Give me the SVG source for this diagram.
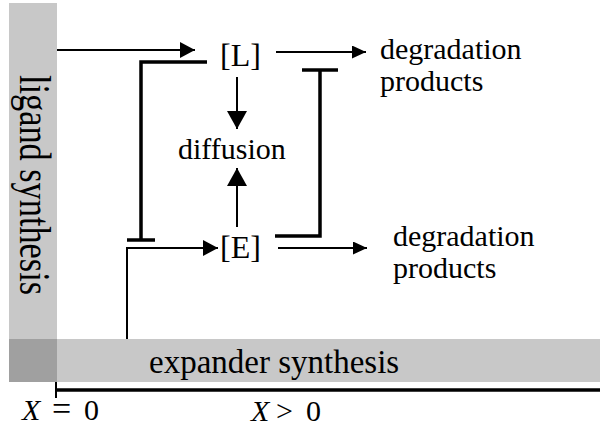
<svg xmlns="http://www.w3.org/2000/svg" width="600" height="429" viewBox="0 0 600 429">
<style>
text{font-family:"Liberation Serif","Times New Roman",serif;fill:#000}
.lbl{font-size:30px}
.node{font-size:32px}
.thin{stroke:#000;stroke-width:2;fill:none}
.thick{stroke:#000;stroke-width:3.5;fill:none}
.bar{fill:#c8c8c8}
</style>
<defs>
<marker id="headL" markerUnits="userSpaceOnUse" markerWidth="15" markerHeight="16" refX="15" refY="8" orient="auto"><path d="M0,0 L15,8 L0,16 z" fill="#000"/></marker>
<marker id="headD" markerUnits="userSpaceOnUse" markerWidth="18" markerHeight="20" refX="18" refY="10" orient="auto"><path d="M0,0 L18,10 L0,20 z" fill="#000"/></marker>
<marker id="headS" markerUnits="userSpaceOnUse" markerWidth="14" markerHeight="13" refX="14" refY="6.5" orient="auto"><path d="M0,0 L14,6.5 L0,13 z" fill="#000"/></marker>
</defs>
<g id="ligand-synthesis">
<rect class="bar" x="9" y="3" width="48" height="379"/>
<text transform="translate(20,75) rotate(90)" font-size="44" textLength="220" lengthAdjust="spacingAndGlyphs">ligand synthesis</text>
</g>
<g id="expander-synthesis">
<rect class="bar" x="9" y="339" width="591" height="43"/>
<rect x="9" y="339" width="48" height="43" fill="#a0a0a0"/>
<text x="149" y="373" font-size="33">expander synthesis</text>
</g>
<g id="axis">
<line x1="56" y1="390" x2="600" y2="390" stroke="#000" stroke-width="3.5"/>
<line x1="56" y1="382" x2="56" y2="398" stroke="#000" stroke-width="2"/>
<text class="lbl" y="420"><tspan x="22" font-style="italic">X</tspan><tspan x="52" font-size="34">=</tspan><tspan x="84">0</tspan></text>
<text class="lbl" y="421"><tspan x="251" font-style="italic">X</tspan><tspan x="276">&gt;</tspan><tspan x="306">0</tspan></text>
</g>
<g id="L"><text class="node" x="220" y="66">[L]</text></g>
<g id="E"><text class="node" x="220" y="258">[E]</text></g>
<g id="diffusion"><text class="lbl" x="178" y="159">diffusion</text></g>
<g id="degradation-L"><text class="lbl" x="380" y="59">degradation</text><text class="lbl" x="380" y="91">products</text></g>
<g id="degradation-E"><text class="lbl" x="393" y="246">degradation</text><text class="lbl" x="393" y="278">products</text></g>
<g id="connectors">
<line class="thin" x1="57" y1="50" x2="195" y2="50" marker-end="url(#headL)"/>
<polyline class="thick" points="207,62 141,62 141,240"/>
<line class="thick" x1="127" y1="240" x2="155" y2="240"/>
<line class="thin" x1="237" y1="77" x2="237" y2="129" marker-end="url(#headD)"/>
<line class="thin" x1="237" y1="227" x2="237" y2="168" marker-end="url(#headD)"/>
<polyline class="thin" points="127,339 127,248 218,248" stroke-width="1.5" marker-end="url(#headL)"/>
<polyline class="thick" points="275,236 320,236 320,70"/>
<line class="thick" x1="302" y1="70" x2="338" y2="70"/>
<line class="thin" x1="276" y1="52" x2="366" y2="52" marker-end="url(#headS)"/>
<line class="thin" x1="278" y1="248" x2="367" y2="248" marker-end="url(#headS)"/>
</g>
</svg>
